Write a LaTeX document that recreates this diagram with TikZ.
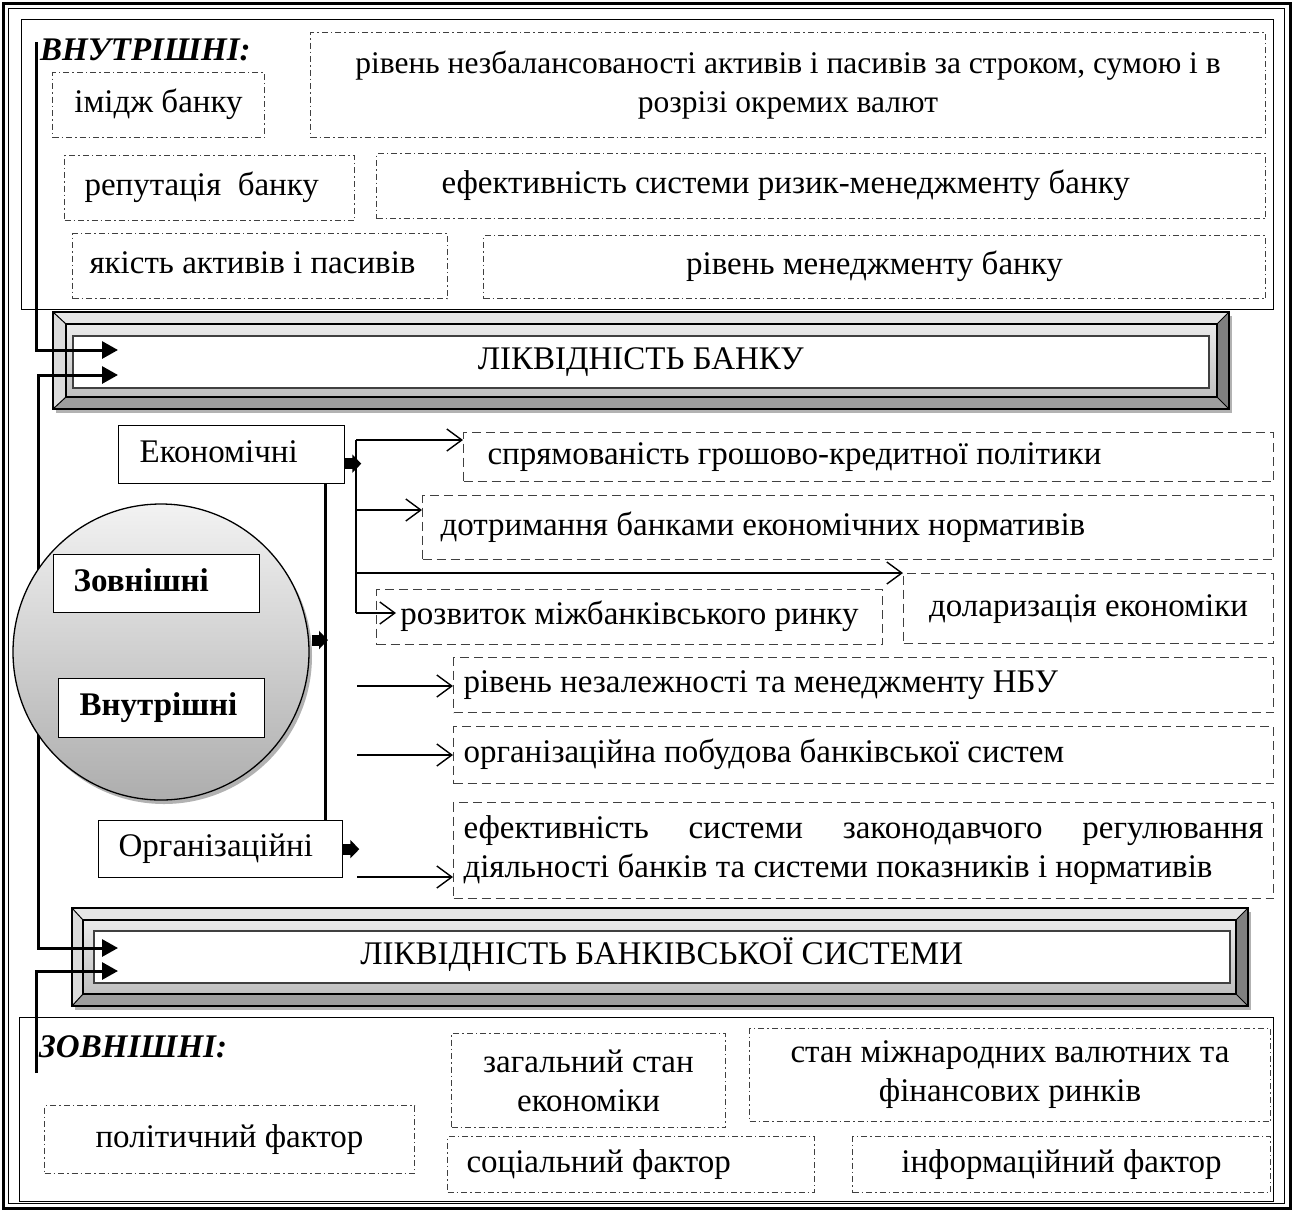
\documentclass[tikz,border=0pt]{standalone}
\usepackage{fontspec}
\setmainfont{Liberation Serif}
\usetikzlibrary{arrows.meta,calc}
\newcommand\fs{\fontsize{33}{39}\selectfont}
\newcommand\lt[3]{\makebox[#1pt][l]{\hspace*{#2pt}#3}}
% box from (x1,y1) to (x2,y2): style, x1, y1, x2, y2, name, text
\newcommand\bx[7]{\node[#1, anchor=north west, minimum width=#4pt-#2pt, minimum height=#5pt-#3pt] (#6) at (#2,#3) {#7};}
\newcommand\bevelframe[8]{%
  \fill[black!30] (#1+3,#2+4) rectangle (#3+3,#4+4);
  \fill[black!10] (#1,#2) -- (#3,#2) -- (#7,#6) -- (#5,#6) -- cycle;
  \fill[black!14] (#1,#2) -- (#5,#6) -- (#5,#8) -- (#1,#4) -- cycle;
  \fill[black!38] (#1,#4) -- (#5,#8) -- (#7,#8) -- (#3,#4) -- cycle;
  \fill[black!50] (#3,#2) -- (#7,#6) -- (#7,#8) -- (#3,#4) -- cycle;
  \shade[top color=black!8, bottom color=black!25] (#5,#6) rectangle (#7,#8);
  \draw[line width=1.5pt] (#5,#6) rectangle (#7,#8);
  \draw[line width=1pt] (#1,#2) -- (#5,#6) (#3,#2) -- (#7,#6) (#1,#4) -- (#5,#8) (#3,#4) -- (#7,#8);
  \draw[line width=2pt] (#1,#2) rectangle (#3,#4);
}
\tikzset{
  ddbox/.style={draw=black!75, line width=1pt, dash pattern=on 6pt off 3pt on 1.5pt off 3pt, inner sep=0pt},
  dashbox/.style={draw=black!75, line width=1pt, dash pattern=on 9pt off 5pt, inner sep=0pt},
  plainbox/.style={draw, line width=1.3pt, inner sep=0pt, fill=white},
  container/.style={draw, line width=1pt, inner sep=0pt},
  whitebox/.style={draw=black!75, line width=1.5pt, fill=white, inner sep=0pt},
  one/.style={text height=22pt, text depth=7pt},
  bigarrow/.style={line width=3pt, -{Triangle[length=16pt,width=17pt]}},
  bigboth/.style={line width=3pt, {Triangle[length=16pt,width=17pt]}-{Triangle[length=16pt,width=17pt]}},
  stubarrow/.style={line width=11pt, -{Triangle[length=9pt,width=18pt]}},
  thinarrow/.style={line width=1.4pt, -{Straight Barb[length=15pt,width=22pt]}},
  fline/.style={line width=1.8pt},
  thickline/.style={line width=3pt},
}
\begin{document}
\begin{tikzpicture}[x=1pt,y=-1pt,font=\fs]
\useasboundingbox (0,0) rectangle (1293,1211);
% outer frame
\draw[line width=3pt] (3,3) rectangle (1290,1208);
\draw[line width=1pt] (8.5,8.5) rectangle (1284.5,1203.5);

% ---------- top container ----------
\bx{container}{21}{19}{1273}{309}{topbox}{}
\node[anchor=base west, inner sep=0pt, font=\fs\bfseries\itshape] (vn) at (40,60) {ВНУТРІШНІ:};
\bx{ddbox,one}{52}{72}{264}{137}{img}{імідж банку}
\bx{ddbox,align=center,font=\fontsize{31.5}{39}\selectfont}{310}{32}{1265}{137}{imb}{рівень незбалансованості активів і пасивів за строком, сумою і в\\розрізі окремих валют}
\bx{ddbox,one}{64}{155}{354}{220}{rep}{\lt{290}{20}{репутація\ \ банку}}
\bx{ddbox,one}{376}{153}{1265}{218}{eff}{\lt{889}{65}{ефективність системи ризик-менеджменту банку}}
\bx{ddbox,one}{72}{233}{447}{298}{qual}{\lt{375}{17}{якість активів і пасивів}}
\bx{ddbox,one}{483}{235}{1265}{298}{mgmt}{рівень менеджменту банку}

% ---------- bevel frames ----------
\bevelframe{53}{312}{1229}{409}{66}{324}{1217}{397}
\bx{whitebox,one}{72}{335}{1208}{387}{bank}{ЛІКВІДНІСТЬ БАНКУ}
\bevelframe{72}{908}{1248}{1006}{83}{920}{1236}{994}
\bx{whitebox,one}{93}{930}{1229}{982}{sys}{ЛІКВІДНІСТЬ БАНКІВСЬКОЇ СИСТЕМИ}

% ---------- bottom container ----------
\bx{container}{19}{1017}{1273}{1201}{botbox}{}
\node[anchor=base west, inner sep=0pt, font=\fs\bfseries\itshape] (zv) at (39,1057) {ЗОВНІШНІ:};
\bx{ddbox,one}{44}{1105}{414}{1173}{pol}{політичний фактор}
\bx{ddbox,align=center}{451}{1033}{725}{1127}{gen}{загальний стан\\економіки}
\bx{ddbox,align=center}{749}{1028}{1270}{1121}{intl}{стан міжнародних валютних та\\фінансових ринків}
\bx{ddbox,one}{447}{1136}{814}{1192}{soc}{\lt{367}{19}{соціальний фактор}}
\bx{ddbox,one}{852}{1136}{1270}{1192}{inf}{інформаційний фактор}

% ---------- left feed lines ----------
\coordinate (aTop) at (36,42);
\coordinate (aTip) at (118,350);
\draw[bigarrow] (aTop) -- (aTop |- aTip) -- (aTip);
\coordinate (bTip1) at (118,375);
\coordinate (bTip2) at (118,948);
\draw[bigboth] (bTip1) -- (38,375) -- (38,948) -- (bTip2);
\coordinate (cBot) at (36,1073);
\coordinate (cTip) at (118,971);
\draw[bigarrow] (cBot) -- (cBot |- cTip) -- (cTip);

% ---------- circle ----------
\node[circle, fill=black!30, minimum size=296pt, inner sep=0pt] at (164,656) {};
\node[circle, draw, line width=1.3pt, minimum size=296pt, inner sep=0pt, top color=black!5, bottom color=black!32] (circ) at (161,652) {};
\bx{plainbox,one,font=\fs\bfseries}{53}{554}{259}{612}{zovn}{\lt{206}{20}{Зовнішні}}
\bx{plainbox,one,font=\fs\bfseries}{58}{678}{264}{737}{vnut}{\lt{206}{21}{Внутрішні}}

% ---------- factor groups ----------
\bx{plainbox,one}{118}{425}{344}{483}{econ}{\lt{226}{21}{Економічні}}
\bx{plainbox,one}{98}{820}{342}{877}{org}{\lt{244}{20}{Організаційні}}
\coordinate (v2) at (325,0);
\draw[thickline] (econ.south -| v2) -- (org.north -| v2);
\draw[stubarrow] ($(circ.east)+(2,-12)$) -- ($(circ.east -| v2)+(3,-12)$);

% economic factors
\bx{dashbox,one}{463}{432}{1273}{481}{spr}{\lt{810}{24}{спрямованість грошово-кредитної політики}}
\bx{dashbox,one}{422}{495}{1273}{559}{dot}{\lt{851}{18}{дотримання банками економічних нормативів}}
\bx{dashbox,one}{376}{589}{882}{644}{roz}{розвиток міжбанківського ринку}
\bx{dashbox,one}{903}{573}{1273}{643}{dol}{доларизація економіки}

\coordinate (b1) at (356,440);
\coordinate (b2) at (356,510);
\coordinate (b3) at (356,573);
\coordinate (b4) at (356,613);
\draw[stubarrow] ($(econ.east)+(0,9)$) -- ++(16,0);
\draw[fline] (b1) -- (b4);
\draw[thinarrow] (b1) -- (spr.west |- b1);
\draw[thinarrow] (b2) -- (dot.west |- b2);
\draw[thinarrow] (b3) -- (dol.north west);
\draw[thinarrow] (b4) -- ($(roz.west |- b4)+(20,0)$);

% organisational factors
\bx{dashbox,one}{453}{657}{1273}{712}{nbu}{\lt{820}{10}{рівень незалежності та менеджменту НБУ}}
\bx{dashbox,one}{453}{726}{1273}{783}{osys}{\lt{820}{10}{організаційна побудова банківської систем}}
\bx{dashbox}{453}{802}{1273}{898}{law}{\lt{820}{10}{\parbox{800pt}{\baselineskip=39pt
  \hbox to 800pt{ефективність\hfill системи\hfill законодавчого\hfill регулювання}%
  \hbox{діяльності банків та системи показників і нормативів}}}}

\draw[stubarrow] ($(org.east)+(0,0)$) -- ++(16,0);
\coordinate (o1) at (357,686);
\coordinate (o2) at (357,755);
\coordinate (o3) at (357,877);
\draw[thinarrow] (o1) -- (nbu.west |- o1);
\draw[thinarrow] (o2) -- (osys.west |- o2);
\draw[thinarrow] (o3) -- (law.west |- o3);
\end{tikzpicture}
\end{document}
